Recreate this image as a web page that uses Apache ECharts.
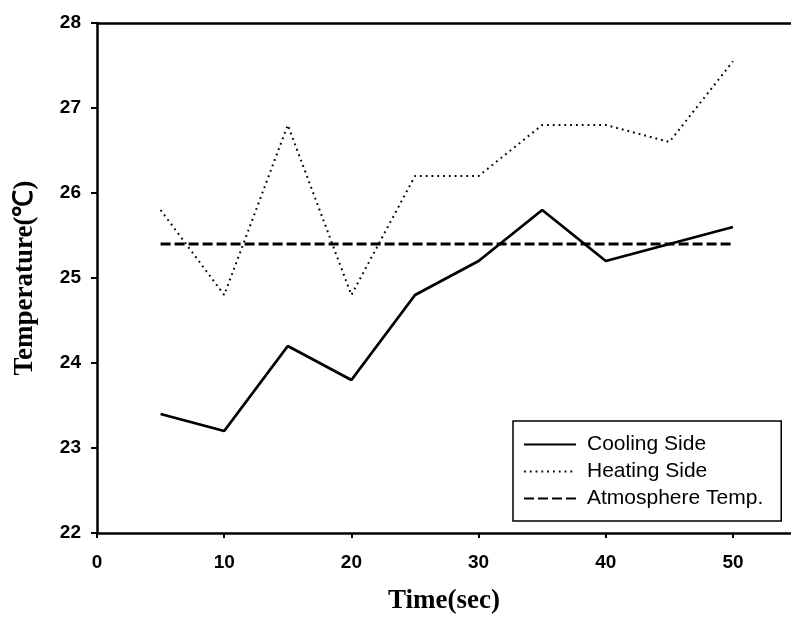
<!DOCTYPE html>
<html>
<head>
<meta charset="utf-8">
<script src="https://cdn.jsdelivr.net/npm/echarts@6/dist/echarts.min.js"></script>
<style>html,body{margin:0;padding:0;background:#fff;}#c{width:791px;height:627px;}</style>
</head>
<body>
<div id="c"></div>
<script>
var times = [5, 10, 15, 20, 25, 30, 35, 40, 45, 50];
var coolingSide = [23.4, 23.2, 24.2, 23.8, 24.8, 25.2, 25.8, 25.2, 25.4, 25.6];
var heatingSide = [25.8, 24.8, 26.8, 24.8, 26.2, 26.2, 26.8, 26.8, 26.6, 27.55];
var atmosphereTemp = [25.4, 25.4, 25.4, 25.4, 25.4, 25.4, 25.4, 25.4, 25.4, 25.4];
var xTicks = [0, 10, 20, 30, 40, 50];
var seriesNames = ['Cooling Side', 'Heating Side', 'Atmosphere Temp.'];
var xTitle = 'Time(sec)';
var yTitle = 'Temperature(\u2103)';

function pairs(vals) { return times.map(function (t, i) { return [t, vals[i]]; }); }

var chart = echarts.init(document.getElementById('c'));
var labelFont = { color: '#000', fontFamily: 'Liberation Sans, Arial, sans-serif', fontWeight: 'bold', fontSize: 19 };
var xMax = 54.56;
chart.setOption({
  animation: false,
  backgroundColor: '#fff',
  grid: { left: 97, right: 0, top: 23, bottom: 94, show: false },
  xAxis: [{
    type: 'value', min: 0, max: xMax, position: 'bottom',
    name: xTitle, nameLocation: 'middle', nameGap: 55,
    nameTextStyle: { color: '#000', fontFamily: 'Liberation Serif, Times New Roman, serif', fontWeight: 'bold', fontSize: 27 },
    axisLine: { show: true, lineStyle: { color: '#000', width: 2.5 } },
    axisTick: { show: true, length: 5, customValues: xTicks, lineStyle: { color: '#000', width: 2 } },
    axisLabel: Object.assign({ margin: 20, customValues: xTicks }, labelFont),
    splitLine: { show: false }
  }, {
    type: 'value', min: 0, max: xMax, position: 'top',
    axisLine: { show: true, onZero: false, lineStyle: { color: '#000', width: 2.5 } },
    axisTick: { show: false }, axisLabel: { show: false }, splitLine: { show: false }
  }],
  yAxis: {
    type: 'value', min: 22, max: 28, interval: 1,
    name: yTitle, nameLocation: 'middle', nameGap: 58,
    nameTextStyle: { color: '#000', fontFamily: 'Liberation Serif, Times New Roman, serif', fontWeight: 'bold', fontSize: 27 },
    axisLine: { show: true, lineStyle: { color: '#000', width: 2.5 } },
    axisTick: { show: true, length: 6, lineStyle: { color: '#000', width: 2 } },
    axisLabel: Object.assign({ margin: 16 }, labelFont),
    splitLine: { show: false }
  },
  legend: {
    orient: 'vertical', left: 513, top: 421,
    padding: [13, 18, 12, 10],
    borderColor: '#000', borderWidth: 1.5, backgroundColor: '#fff',
    itemWidth: 52, itemHeight: 20, itemGap: 6,
    itemStyle: { opacity: 0, borderWidth: 0 },
    textStyle: { color: '#000', fontFamily: 'Liberation Sans, Arial, sans-serif', fontSize: 21, lineHeight: 20, padding: [0, 0, 0, 6] },
    data: seriesNames
  },
  series: [
    { name: seriesNames[0], type: 'line', symbol: 'none', data: pairs(coolingSide), lineStyle: { color: '#000', width: 2.8, type: 'solid' }, itemStyle: { color: '#000' }, z: 3 },
    { name: seriesNames[1], type: 'line', symbol: 'none', data: pairs(heatingSide), lineStyle: { color: '#000', width: 2, type: [1.8, 4] }, itemStyle: { color: '#000' }, z: 2 },
    { name: seriesNames[2], type: 'line', symbol: 'none', data: pairs(atmosphereTemp), lineStyle: { color: '#000', width: 3, type: [10, 4] }, itemStyle: { color: '#000' }, z: 2 }
  ]
});
</script>
</body>
</html>
